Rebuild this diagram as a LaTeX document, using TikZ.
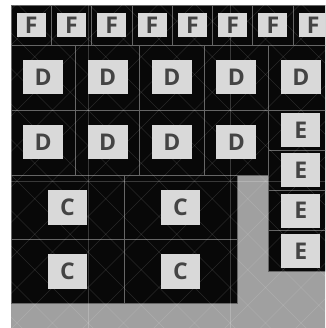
\documentclass[tikz,border=0pt]{standalone}
\usepackage{fontspec}
\setsansfont{Open Sans}
\begin{document}
\begin{tikzpicture}[x=1pt,y=-1pt,
  cell/.style={draw=cellline,line width=0.8pt,fill=cellblack,inner sep=0pt,outer sep=0pt},
  lab/.style={fill=labfill,text=labtext,inner sep=0pt,outer sep=0pt,font=\sffamily\bfseries\fontsize{23}{23}\selectfont},
  flab/.style={lab,minimum width=29pt,minimum height=24pt},
  dlab/.style={lab,minimum width=40pt,minimum height=34pt},
  clab/.style={lab,minimum width=39pt,minimum height=35pt},
  gridmajor/.style={draw=white,draw opacity=0.2,line width=0.8pt},
  griddiag/.style={draw=white,draw opacity=0.13,line width=0.6pt}]
\definecolor{cellblack}{HTML}{080808}
\definecolor{cellline}{HTML}{666666}
\definecolor{labfill}{HTML}{D9D9D9}
\definecolor{labtext}{HTML}{444444}
\definecolor{basegray}{HTML}{A0A0A0}
\useasboundingbox (0,0) rectangle (325,328);
\clip (0,0) rectangle (325,328);
\fill[white] (0,0) rectangle (325,328);
\fill[basegray] (11,5) rectangle (340,340);
% F row
\foreach \i in {0,...,7}{
  \node[cell,minimum width=40.3pt,minimum height=40pt] (f\i) at ({31.15+40.3*\i},25) {};
}
% D rows
\foreach \i in {0,...,4}{
  \node[cell,minimum width=64.4pt,minimum height=65pt] (da\i) at ({43.2+64.4*\i},77.5) {};
}
\foreach \i in {0,...,3}{
  \node[cell,minimum width=64.4pt,minimum height=65pt] (db\i) at ({43.2+64.4*\i},142.5) {};
}
% E column
\foreach \j in {0,...,3}{
  \node[cell,minimum width=64.4pt,minimum height=40.25pt] (e\j) at (300.8,{130.125+40.25*\j}) {};
}
% C block
\foreach \i in {0,1}{
  \foreach \j in {0,1}{
    \node[cell,minimum width=113pt,minimum height=64pt] (c\i\j) at ({67.5+113*\i},{207+64*\j}) {};
  }
}
% overlay grid
\begin{scope}
  \clip (11,5) rectangle (340,340);
  \foreach \k in {-12,...,12}{
    \draw[griddiag] (-20,{-20+93+35.5*\k}) -- (420,{420+93+35.5*\k});
  }
  \foreach \k in {-10,...,14}{
    \draw[griddiag] (-20,{269+20+35.5*\k}) -- (420,{269-420+35.5*\k});
  }
  \draw[gridmajor] (88,5) -- (88,340);
  \draw[gridmajor] (230,5) -- (230,340);
  \draw[gridmajor] (11,181) -- (340,181);
\end{scope}
% labels
\foreach \i in {0,...,7}{
  \node[flab] (fl\i) at (f\i) {F};
}
\foreach \i in {0,...,4}{
  \node[dlab] (dal\i) at (da\i) {D};
}
\foreach \i in {0,...,3}{
  \node[dlab] (dbl\i) at (db\i) {D};
}
\foreach \j in {0,...,3}{
  \node[dlab,minimum width=39pt] (el\j) at (e\j) {E};
}
\foreach \i in {0,1}{
  \foreach \j in {0,1}{
    \node[clab] (cl\i\j) at (c\i\j) {C};
  }
}
\end{tikzpicture}
\end{document}
